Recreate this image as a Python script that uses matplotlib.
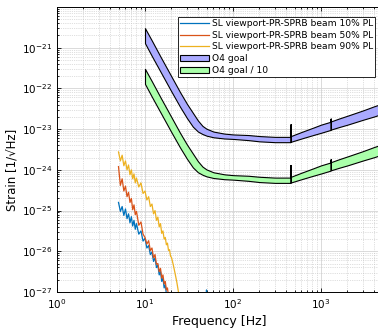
import numpy as np
import matplotlib
matplotlib.use('Agg')
import matplotlib.pyplot as plt
from matplotlib.ticker import LogLocator, NullFormatter

# O4 goal band (log10 of strain), lower and upper edge
goal_freq = [10, 12, 15, 20, 25, 30, 35, 40, 45, 50, 60, 80, 100, 150, 200, 300, 449, 452, 455,
             600, 800, 1000, 1280, 1290, 1300, 1600, 2000, 3000, 4000, 5000]
goal_upper_log = [-20.52, -20.83, -21.22, -21.71, -22.09, -22.38, -22.60, -22.79, -22.92, -22.99,
                  -23.06, -23.11, -23.13, -23.145, -23.17, -23.19, -23.19, -22.88, -23.17,
                  -23.07, -22.97, -22.89, -22.82, -22.74, -22.81, -22.74, -22.67, -22.54, -22.44, -22.37]
goal_lower_log = [-20.89, -21.21, -21.59, -22.08, -22.45, -22.73, -22.94, -23.06, -23.12, -23.16,
                  -23.20, -23.23, -23.24, -23.27, -23.30, -23.32, -23.32, -22.88, -23.31,
                  -23.23, -23.15, -23.09, -23.02, -22.74, -23.01, -22.95, -22.89, -22.77, -22.69, -22.62]

# scattered light spectra
sl_freq = [5.0, 5.25, 5.5, 5.75, 6.0, 6.25, 6.5, 6.75, 7.0, 7.25, 7.5, 7.75, 8.0, 8.5, 9.0, 9.5,
           10, 10.5, 11, 11.5, 12, 12.5, 13, 13.5, 14, 14.5, 15, 15.5, 16, 16.5, 17, 17.5,
           18, 18.5, 19, 19.5, 20, 21, 22, 23, 24, 25]
sl10_log = [-24.80, -25.02, -24.90, -25.12, -24.96, -25.20, -25.08, -25.30, -25.15, -25.38, -25.24, -25.46,
            -25.32, -25.58, -25.50, -25.75, -25.68, -25.92, -25.86, -26.08, -26.02, -26.25, -26.16, -26.40,
            -26.34, -26.58, -26.50, -26.74, -26.66, -26.90, -26.82, -27.05, -27.10, -27.3, -27.4, -27.5,
            -27.5, -27.6, -27.6, -27.7, -27.7, -27.8]
sl50_log = [-23.92, -24.38, -24.22, -24.52, -24.40, -24.66, -24.55, -24.80, -24.70, -24.98, -24.86, -25.10,
            -25.02, -25.36, -25.28, -25.58, -25.66, -25.82, -25.74, -25.98, -25.92, -26.16, -26.08, -26.32,
            -26.30, -26.50, -26.42, -26.66, -26.58, -26.80, -26.74, -26.95, -26.90, -27.10, -27.2, -27.3,
            -27.4, -27.5, -27.6, -27.6, -27.7, -27.8]
sl90_log = [-23.56, -23.78, -23.64, -23.90, -23.78, -24.00, -23.88, -24.12, -24.00, -24.22, -24.10, -24.32,
            -24.20, -24.42, -24.32, -24.58, -24.52, -24.74, -24.66, -24.90, -24.84, -25.08, -25.00, -25.24,
            -25.16, -25.40, -25.32, -25.56, -25.50, -25.70, -25.66, -25.84, -25.80, -25.98, -25.96, -26.12,
            -26.15, -26.34, -26.55, -26.76, -27.00, -27.30]
# small 50 Hz line in the 10% spectrum
line50_freq = [49.8, 50.0, 50.2]
line50_log = [-27.5, -26.95, -27.5]

labels = ['SL viewport-PR-SPRB beam 10% PL', 'SL viewport-PR-SPRB beam 50% PL',
          'SL viewport-PR-SPRB beam 90% PL', 'O4 goal', 'O4 goal / 10']
colors = ['#0072BD', '#D95319', '#EDB120']

goal_upper = 10.0 ** np.array(goal_upper_log)
goal_lower = 10.0 ** np.array(goal_lower_log)

plt.rcParams['font.family'] = 'DejaVu Sans'
fig = plt.figure(figsize=(3.78, 3.31), dpi=100)
ax = fig.add_axes([57 / 378, 39 / 331, 325.5 / 378, 285 / 331])

ax.plot(sl_freq, 10.0 ** np.array(sl10_log), color=colors[0], lw=0.9, label=labels[0])
ax.plot(sl_freq, 10.0 ** np.array(sl50_log), color=colors[1], lw=0.9, label=labels[1])
ax.plot(sl_freq, 10.0 ** np.array(sl90_log), color=colors[2], lw=0.9, label=labels[2])
ax.plot(line50_freq, 10.0 ** np.array(line50_log), color=colors[0], lw=0.9)

ax.fill_between(goal_freq, goal_lower, goal_upper, facecolor='#aaaaff', edgecolor='k',
                lw=0.8, label=labels[3])
ax.fill_between(goal_freq, goal_lower / 10, goal_upper / 10, facecolor='#aaffaa', edgecolor='k',
                lw=0.8, label=labels[4])

ax.set_xscale('log')
ax.set_yscale('log')
ax.set_xlim(1, 5000)
ax.set_ylim(1e-27, 1e-20)
ax.set_xticks([1, 10, 100, 1000])
ax.set_yticks([1e-27, 1e-26, 1e-25, 1e-24, 1e-23, 1e-22, 1e-21])
ax.xaxis.set_minor_locator(LogLocator(base=10, subs=range(2, 10), numticks=20))
ax.yaxis.set_minor_locator(LogLocator(base=10, subs=range(2, 10), numticks=20))
ax.xaxis.set_minor_formatter(NullFormatter())
ax.yaxis.set_minor_formatter(NullFormatter())

ax.grid(True, which='major', color='#d5d5d5', lw=0.6, ls='-')
ax.grid(True, which='minor', color='#c0c0c0', lw=0.5, ls=':')
ax.set_axisbelow(True)
ax.tick_params(which='both', direction='in', top=True, right=True, labelsize=7.5, width=0.6)
ax.tick_params(which='major', length=3)
ax.tick_params(which='minor', length=1.5)
for s in ax.spines.values():
    s.set_linewidth(0.7)

ax.set_xlabel('Frequency [Hz]', fontsize=9, labelpad=3)
ax.set_ylabel('Strain [1/\u221aHz]', fontsize=8.5)
ax.yaxis.set_label_coords(-0.118, 0.43)

leg = ax.legend(loc='upper right', bbox_to_anchor=(318 / 325.5, (292 - 16.7) / 285),
                borderaxespad=0, fontsize=6.6, fancybox=False, framealpha=1,
                edgecolor='k', handlelength=3.2, handletextpad=0.25, labelspacing=0.3,
                borderpad=0.25)
leg.get_frame().set_linewidth(0.6)

fig.savefig('out.png', dpi=100)
